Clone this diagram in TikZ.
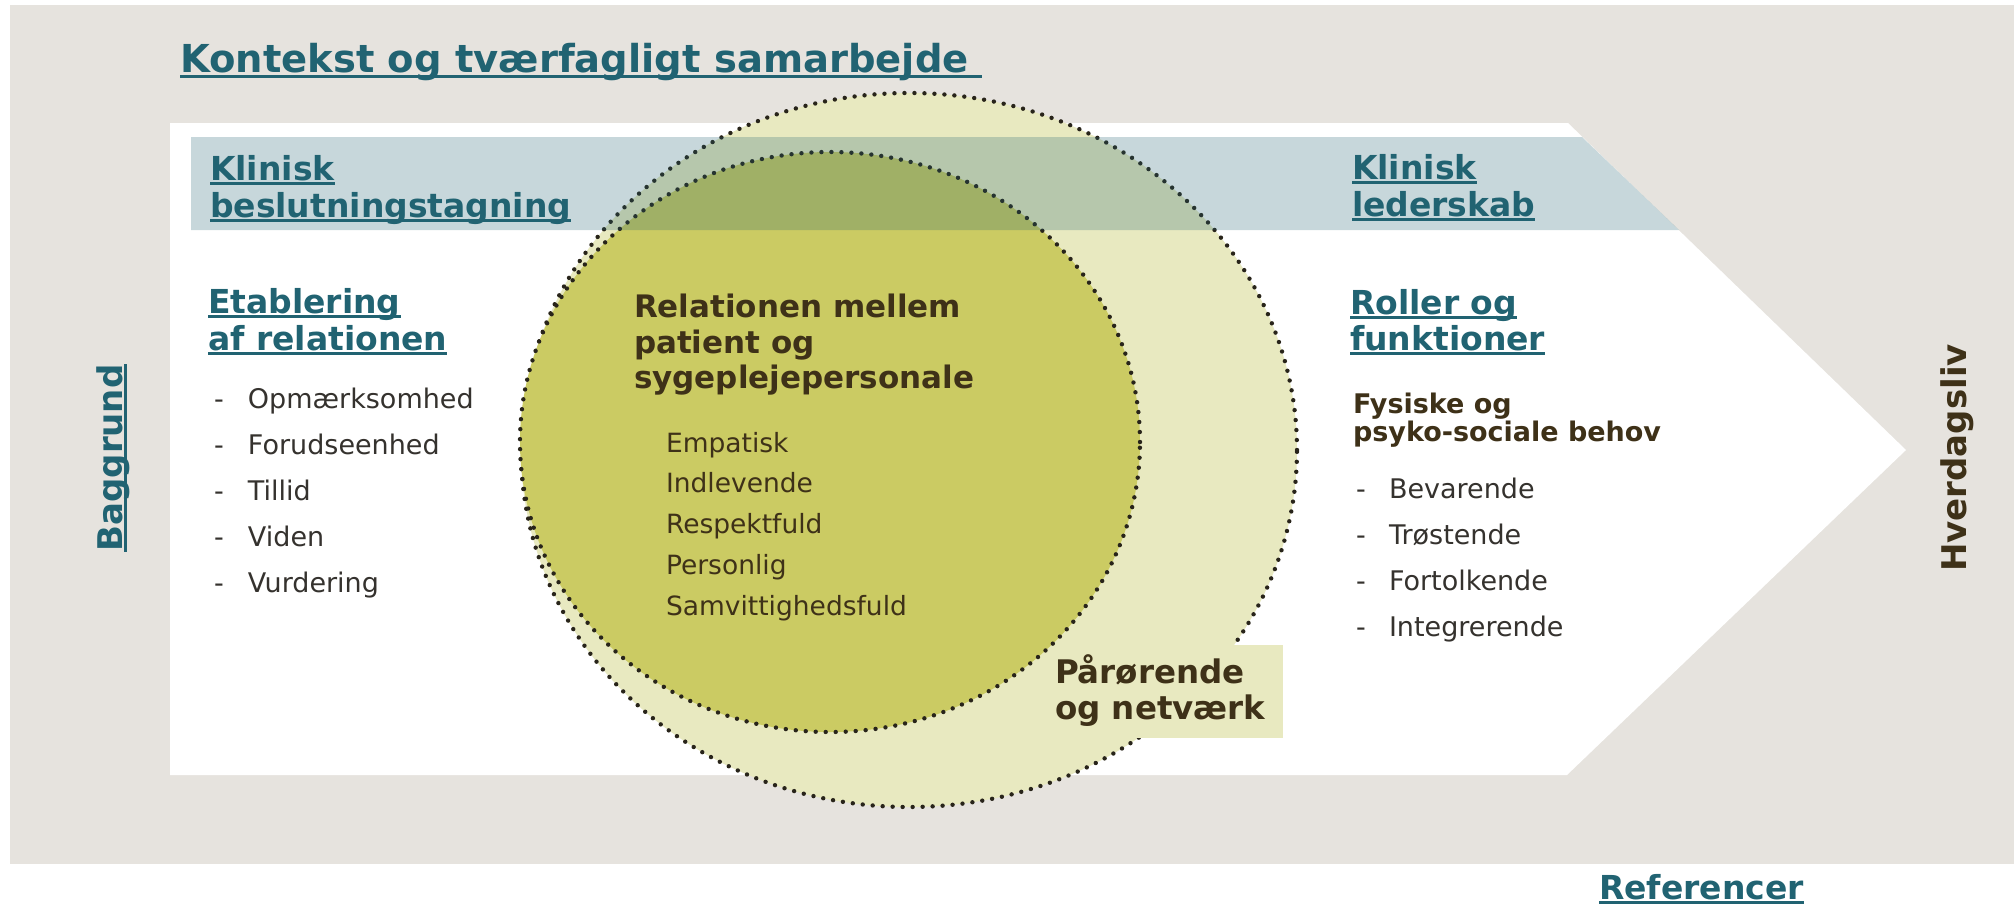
\documentclass[tikz,border=0pt]{standalone}
\usepackage{fontspec}
\setmainfont{DejaVu Sans}

\definecolor{bggray}{RGB}{230,227,222}
\definecolor{tealc}{RGB}{33,99,114}
\definecolor{outerfill}{RGB}{232,233,192}
\definecolor{innerfill}{RGB}{203,203,99}
\definecolor{browntxt}{RGB}{62,49,24}
\definecolor{listtxt}{RGB}{53,50,46}
\definecolor{dotc}{RGB}{40,36,26}

% underlined text: a rule laid under the box of the text
\newcommand\ulin[1]{\setbox0=\hbox{#1}\leavevmode\rlap{\rule[-0.16em]{\wd0}{0.09em}}\box0}

\tikzset{
  txt/.style={inner sep=0pt, outer sep=0pt, anchor=base west},
  titletxt/.style={txt, text=tealc, font=\fontsize{38.5}{46}\selectfont\bfseries},
  head/.style={txt, text=tealc, font=\fontsize{33}{40}\selectfont\bfseries},
  circhead/.style={txt, text=browntxt, font=\fontsize{31}{37}\selectfont\bfseries},
  circitem/.style={txt, text=browntxt, font=\fontsize{26.5}{32}\selectfont},
  listitem/.style={txt, text=listtxt, font=\fontsize{27}{32}\selectfont},
  needs/.style={txt, text=browntxt, font=\fontsize{27}{32}\selectfont\bfseries},
  kin/.style={txt, text=browntxt, font=\fontsize{32.5}{38}\selectfont\bfseries},
  dotted rim/.style={draw=dotc, line width=4.4pt, line cap=round, dash pattern=on 0pt off 10pt},
  outerdisc/.style={fill=outerfill, dotted rim},
  innerdisc/.style={fill=innerfill, dotted rim},
}

\begin{document}
\begin{tikzpicture}[x=1pt,y=-1pt]
\useasboundingbox (0,0) rectangle (2014,908);
\fill[white] (0,0) rectangle (2014,908);

% context frame
\fill[bggray] (10,5) rectangle (2014,864);

% arrow towards everyday life
\fill[white] (170,123) -- (1568,123) -- (1906,450) -- (1567,775) -- (170,775) -- cycle;

% relatives and network (outer disc) with its label box
\path[outerdisc] (909,450) ellipse [x radius=388pt, y radius=357pt];
\fill[outerfill] (1000,645) rectangle (1283,738);

% relation patient - nursing staff (inner disc)
\path[innerdisc] (830,442) ellipse [x radius=310pt, y radius=290pt];

% clinical band, laid over the discs
\fill[tealc, opacity=0.25] (191,137) -- (1582,137) -- (1679,230) -- (191,230) -- cycle;

% headings
\node[titletxt] (title) at (180,72) {\ulin{Kontekst og tværfagligt samarbejde\ }};

\node[head] (kbA) at (210,180) {\ulin{Klinisk}};
\node[head] (kbB) at (210,217) {\ulin{beslutningstagning}};

\node[head] (klA) at (1352,179) {\ulin{Klinisk}};
\node[head] (klB) at (1352,216) {\ulin{lederskab}};

\node[head] (etA) at (208,313) {\ulin{Etablering}};
\node[head] (etB) at (208,350) {\ulin{af relationen}};

\node[head] (roA) at (1350,314) {\ulin{Roller og}};
\node[head] (roB) at (1350,350) {\ulin{funktioner}};

% establishing the relation
\foreach \w [count=\i] in {Opmærksomhed,Forudseenhed,Tillid,Viden,Vurdering}
  \node[listitem] (et\i) at (214,{408+46*(\i-1)}) {\makebox[34pt][l]{-}\w};

% centre of the model
\node[circhead] (reA) at (634,317) {Relationen mellem};
\node[circhead] (reB) at (634,353) {patient og};
\node[circhead] (reC) at (634,388) {sygeplejepersonale};
\foreach \w [count=\i] in {Empatisk,Indlevende,Respektfuld,Personlig,Samvittighedsfuld}
  \node[circitem] (re\i) at (666,{452+40.8*(\i-1)}) {\w};

% roles and functions
\node[needs] (fyA) at (1353,413) {Fysiske og};
\node[needs] (fyB) at (1353,441) {psyko-sociale behov};
\foreach \w [count=\i] in {Bevarende,Trøstende,Fortolkende,Integrerende}
  \node[listitem] (ro\i) at (1356,{498+46.3*(\i-1)}) {\makebox[33pt][l]{-}\w};

% relatives
\node[kin] (kinA) at (1055,683) {Pårørende};
\node[kin] (kinB) at (1055,719) {og netværk};

% side labels
\node[head, anchor=base, rotate=90, font=\fontsize{34}{40}\selectfont\bfseries] (bag) at (122,458) {\ulin{Baggrund}};
\node[txt, anchor=base, rotate=90, text=browntxt, font=\fontsize{34}{40}\selectfont\bfseries] (hv) at (1966,458) {Hverdagsliv};

% references
\node[head] (ref) at (1599,899) {\ulin{Referencer}};
\end{tikzpicture}
\end{document}
